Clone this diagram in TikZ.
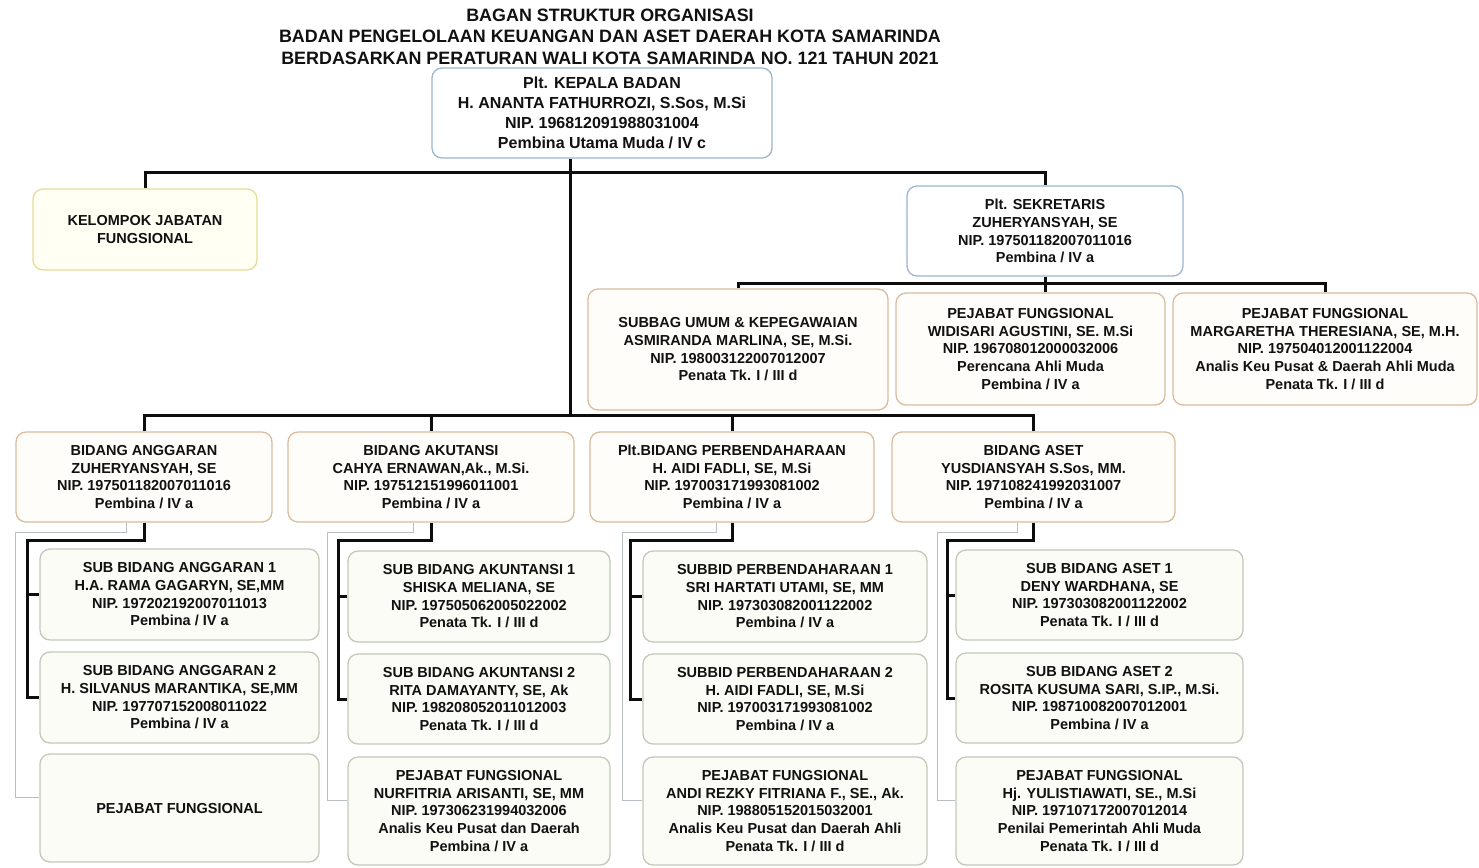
\documentclass[tikz,border=0pt]{standalone}
\usepackage{fontspec}
\setmainfont{Liberation Sans}
\definecolor{bordBlue}{HTML}{9DB5CF}
\definecolor{bordYel}{HTML}{E6DC9A}
\definecolor{fillYel}{HTML}{FFFFF4}
\definecolor{bordTan}{HTML}{D9BC9C}
\definecolor{fillTan}{HTML}{FFFDFA}
\definecolor{bordSub}{HTML}{C2C9B8}
\definecolor{fillSub}{HTML}{FBFCF5}
\definecolor{connGray}{HTML}{B8BEC4}
\definecolor{txt}{HTML}{111111}
\tikzset{
  basebox/.style={rounded corners=10pt, line width=1.3pt, align=center, inner sep=0pt,
    text=txt, font=\bfseries\fontsize{14.5}{17.7}\selectfont},
  bluebox/.style={basebox, draw=bordBlue, fill=white},
  yelbox/.style={basebox, draw=bordYel, fill=fillYel},
  tanbox/.style={basebox, draw=bordTan, fill=fillTan},
  subbox/.style={basebox, draw=bordSub, fill=fillSub},
  conn/.style={line width=3pt, draw=black!95},
  gconn/.style={line width=1pt, draw=connGray},
}
\newcommand{\bx}[6]{\node[#1, minimum width={#4pt-#2pt}, minimum height={#5pt-#3pt}] (#6) at ({(#2+#4)/2},{(#3+#5)/2})}
\begin{document}
\begin{tikzpicture}[x=1pt,y=-1pt]
\useasboundingbox (0,0) rectangle (1479,867);
% title
\node[align=center, inner sep=0pt, text=txt, font=\bfseries\fontsize{17.9}{21.5}\selectfont] (title) at (610,36.5)
 {BAGAN STRUKTUR ORGANISASI\\BADAN PENGELOLAAN KEUANGAN DAN ASET DAERAH KOTA SAMARINDA\\BERDASARKAN PERATURAN WALI KOTA SAMARINDA NO. 121 TAHUN 2021};
% top level
\bx{bluebox, font=\bfseries\fontsize{16}{20}\selectfont}{432}{68}{772}{158}{kepala}
 {Plt. KEPALA BADAN\\H. ANANTA FATHURROZI, S.Sos, M.Si\\NIP. 196812091988031004\\Pembina Utama Muda / IV c};
\bx{yelbox}{33}{189}{257}{270}{kelompok} {KELOMPOK JABATAN\\FUNGSIONAL};
\bx{bluebox, font=\bfseries\fontsize{14.5}{17.8}\selectfont}{907}{186}{1183}{276}{sek}
 {Plt. SEKRETARIS\\ZUHERYANSYAH, SE\\NIP. 197501182007011016\\Pembina / IV a};
% secretariat row
\bx{tanbox}{588}{289}{888}{410}{subbag}
 {SUBBAG UMUM \& KEPEGAWAIAN\\ASMIRANDA MARLINA, SE, M.Si.\\NIP. 198003122007012007\\Penata Tk. I / III d};
\bx{tanbox}{896}{293}{1165}{405}{widi}
 {PEJABAT FUNGSIONAL\\WIDISARI AGUSTINI, SE. M.Si\\NIP. 196708012000032006\\Perencana Ahli Muda\\Pembina / IV a};
\bx{tanbox}{1173}{293}{1477}{405}{marg}
 {PEJABAT FUNGSIONAL\\MARGARETHA THERESIANA, SE, M.H.\\NIP. 197504012001122004\\Analis Keu Pusat \& Daerah Ahli Muda\\Penata Tk. I / III d};
% bidang row
\bx{tanbox}{16}{432}{272}{522}{bA}
 {BIDANG ANGGARAN\\ZUHERYANSYAH, SE\\NIP. 197501182007011016\\Pembina / IV a};
\bx{tanbox}{288}{432}{574}{522}{bB}
 {BIDANG AKUTANSI\\CAHYA ERNAWAN,Ak., M.Si.\\NIP. 197512151996011001\\Pembina / IV a};
\bx{tanbox}{590}{432}{874}{522}{bC}
 {Plt.BIDANG PERBENDAHARAAN\\H. AIDI FADLI, SE, M.Si\\NIP. 197003171993081002\\Pembina / IV a};
\bx{tanbox}{892}{432}{1175}{522}{bD}
 {BIDANG ASET\\YUSDIANSYAH S.Sos, MM.\\NIP. 197108241992031007\\Pembina / IV a};
% column A
\bx{subbox}{40}{549}{319}{640}{a1}
 {SUB BIDANG ANGGARAN 1\\H.A. RAMA GAGARYN, SE,MM\\NIP. 197202192007011013\\Pembina / IV a};
\bx{subbox}{40}{652}{319}{743}{a2}
 {SUB BIDANG ANGGARAN 2\\H. SILVANUS MARANTIKA, SE,MM\\NIP. 197707152008011022\\Pembina / IV a};
\bx{subbox}{40}{754}{319}{862}{pA} {PEJABAT FUNGSIONAL};
% column B
\bx{subbox}{348}{551}{610}{642}{b1}
 {SUB BIDANG AKUNTANSI 1\\SHISKA MELIANA, SE\\NIP. 197505062005022002\\Penata Tk. I / III d};
\bx{subbox}{348}{654}{610}{744}{b2}
 {SUB BIDANG AKUNTANSI 2\\RITA DAMAYANTY, SE, Ak\\NIP. 198208052011012003\\Penata Tk. I / III d};
\bx{subbox}{348}{757}{610}{865}{pB}
 {PEJABAT FUNGSIONAL\\NURFITRIA ARISANTI, SE, MM\\NIP. 197306231994032006\\Analis Keu Pusat dan Daerah\\Pembina / IV a};
% column C
\bx{subbox}{643}{551}{927}{642}{c1}
 {SUBBID PERBENDAHARAAN 1\\SRI HARTATI UTAMI, SE, MM\\NIP. 197303082001122002\\Pembina / IV a};
\bx{subbox}{643}{654}{927}{744}{c2}
 {SUBBID PERBENDAHARAAN 2\\H. AIDI FADLI, SE, M.Si\\NIP. 197003171993081002\\Pembina / IV a};
\bx{subbox}{643}{757}{927}{865}{pC}
 {PEJABAT FUNGSIONAL\\ANDI REZKY FITRIANA F., SE., Ak.\\NIP. 198805152015032001\\Analis Keu Pusat dan Daerah Ahli\\Penata Tk. I / III d};
% column D
\bx{subbox}{956}{550}{1243}{640}{d1}
 {SUB BIDANG ASET 1\\DENY WARDHANA, SE\\NIP. 197303082001122002\\Penata Tk. I / III d};
\bx{subbox}{956}{653}{1243}{743}{d2}
 {SUB BIDANG ASET 2\\ROSITA KUSUMA SARI, S.IP., M.Si.\\NIP. 198710082007012001\\Pembina / IV a};
\bx{subbox}{956}{757}{1243}{865}{pD}
 {PEJABAT FUNGSIONAL\\Hj. YULISTIAWATI, SE., M.Si\\NIP. 197107172007012014\\Penilai Pemerintah Ahli Muda\\Penata Tk. I / III d};
% coordinates
\coordinate (topbus) at (570,172);
\coordinate (trunk) at (570,415);
\coordinate (sekbus) at (1045,283);
\coordinate (aV) at (27,540);
\coordinate (bV) at (338,540);
\coordinate (cV) at (630,540);
\coordinate (dV) at (947,540);
\coordinate (aG) at (15,532);
\coordinate (bG) at (327,532);
\coordinate (cG) at (622,532);
\coordinate (dG) at (937,532);
% connectors
\draw[conn] (kelompok.north) |- (topbus) -| (sek.north);
\draw[conn] (kepala.south -| trunk) -- (trunk);
\draw[conn] (sek.south) -- (sek.south |- widi.north);
\draw[conn] (subbag.north) |- (sekbus) -| (marg.north);
\draw[conn] (bA.north) |- (trunk) -| (bD.north);
\draw[conn] (bB.north) -- (bB.north |- trunk);
\draw[conn] (bC.north) -- (bC.north |- trunk);
% gray connectors to pejabat fungsional
\draw[gconn] ([xshift=-18pt]bA.south) |- (aG) |- ([yshift=11pt]pA.west);
\draw[gconn] ([xshift=-18pt]bB.south) |- (bG) |- ([yshift=11pt]pB.west);
\draw[gconn] ([xshift=-16pt]bC.south) |- (cG) |- ([yshift=11pt]pC.west);
\draw[gconn] ([xshift=-16pt]bD.south) |- (dG) |- ([yshift=11pt]pD.west);
% black connectors to sub bidang
\draw[conn] (bA.south) |- (aV) |- (a2.west);
\draw[conn] (aV |- a1.west) -- (a1.west);
\draw[conn] (bB.south) |- (bV) |- (b2.west);
\draw[conn] (bV |- b1.west) -- (b1.west);
\draw[conn] (bC.south) |- (cV) |- (c2.west);
\draw[conn] (cV |- c1.west) -- (c1.west);
\draw[conn] (bD.south) |- (dV) |- (d2.west);
\draw[conn] (dV |- d1.west) -- (d1.west);
\end{tikzpicture}
\end{document}
